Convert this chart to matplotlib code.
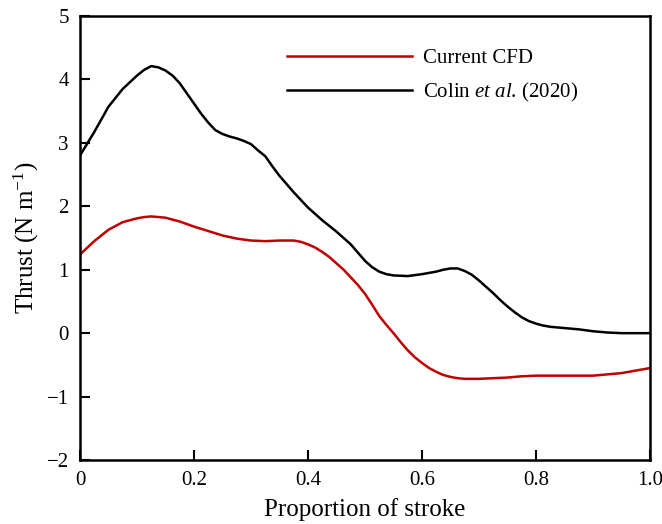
import matplotlib
matplotlib.use("Agg")
import matplotlib.pyplot as plt

# values: proportion of stroke (x) and thrust in N/m
cfd_stroke = [0.000, 0.025, 0.050, 0.075, 0.100, 0.1125, 0.125, 0.1375, 0.150, 0.175,
              0.200, 0.225, 0.250, 0.275, 0.300, 0.325, 0.350, 0.375, 0.3875, 0.400,
              0.4125, 0.425, 0.4375, 0.450, 0.4625, 0.475, 0.4875, 0.500, 0.5125, 0.525,
              0.5375, 0.550, 0.5625, 0.575, 0.5875, 0.600, 0.6125, 0.625, 0.6375, 0.650,
              0.6625, 0.675, 0.700, 0.725, 0.750, 0.775, 0.800, 0.850, 0.900, 0.925,
              0.950, 0.975, 1.000]
current_cfd = [1.24, 1.45, 1.63, 1.75, 1.81, 1.83, 1.84, 1.83, 1.82, 1.76,
               1.68, 1.61, 1.54, 1.49, 1.46, 1.45, 1.46, 1.46, 1.44, 1.40,
               1.35, 1.28, 1.20, 1.10, 1.00, 0.88, 0.76, 0.62, 0.45, 0.27,
               0.13, 0.00, -0.14, -0.27, -0.38, -0.47, -0.55, -0.61, -0.66, -0.69,
               -0.71, -0.72, -0.72, -0.71, -0.70, -0.68, -0.67, -0.67, -0.67, -0.65,
               -0.63, -0.59, -0.55]

colin_stroke = [0.000, 0.025, 0.050, 0.075, 0.100, 0.1125, 0.125, 0.1375, 0.150, 0.1625,
                0.175, 0.1875, 0.200, 0.2125, 0.225, 0.2375, 0.250, 0.2625, 0.275, 0.2875,
                0.300, 0.3125, 0.325, 0.3375, 0.350, 0.375, 0.400, 0.425, 0.450, 0.475,
                0.500, 0.5125, 0.525, 0.5375, 0.550, 0.575, 0.600, 0.625, 0.6375, 0.650,
                0.6625, 0.675, 0.6875, 0.700, 0.7125, 0.725, 0.7375, 0.750, 0.7625, 0.775,
                0.7875, 0.800, 0.8125, 0.825, 0.850, 0.875, 0.900, 0.925, 0.950, 1.000]
colin_2020 = [2.80, 3.17, 3.57, 3.85, 4.06, 4.15, 4.21, 4.19, 4.14, 4.06,
              3.94, 3.78, 3.62, 3.46, 3.32, 3.20, 3.14, 3.10, 3.07, 3.03,
              2.98, 2.88, 2.79, 2.63, 2.48, 2.22, 1.98, 1.78, 1.60, 1.40,
              1.14, 1.04, 0.97, 0.93, 0.91, 0.90, 0.93, 0.97, 1.00, 1.02,
              1.02, 0.98, 0.92, 0.83, 0.73, 0.63, 0.52, 0.42, 0.33, 0.25,
              0.19, 0.15, 0.12, 0.10, 0.08, 0.06, 0.03, 0.01, 0.00, 0.00]

xticks = [0, 0.2, 0.4, 0.6, 0.8, 1.0]
xtick_labels = ["0", "0.2", "0.4", "0.6", "0.8", "1.0"]
yticks = [-2, -1, 0, 1, 2, 3, 4, 5]

plt.rcParams["font.family"] = ["Liberation Serif", "DejaVu Serif"]
plt.rcParams["mathtext.fontset"] = "custom"
plt.rcParams["mathtext.rm"] = "Liberation Serif"
plt.rcParams["mathtext.it"] = "Liberation Serif:italic"

fig = plt.figure(figsize=(6.62, 5.24), dpi=100)
ax = fig.add_axes([0.1208, 0.1221, 0.8611, 0.8474])

ax.plot(cfd_stroke, current_cfd, color="#c00000", linewidth=1.8,
        solid_joinstyle="round", label="Current CFD")
ax.plot(colin_stroke, colin_2020, color="black", linewidth=1.8,
        solid_joinstyle="round", label=r"Colin $\mathit{et\ al}$. (2020)")

ax.set_xlim(0, 1.0)
ax.set_ylim(-2, 5)
ax.set_xticks(xticks)
ax.set_xticklabels(xtick_labels)
ax.set_yticks(yticks)

ax.tick_params(direction="in", length=7, width=1.5, labelsize=15,
               top=False, right=False, pad=8)
for side in ax.spines.values():
    side.set_linewidth(1.8)

ax.set_xlabel("Proportion of stroke", fontsize=18, labelpad=6)
ax.set_ylabel(r"Thrust (N m$^{-1}$)", fontsize=18, labelpad=4)

ax.legend(loc="upper left", bbox_to_anchor=(0.363, 0.926), frameon=False,
          fontsize=15, handlelength=6, handletextpad=0.55, labelspacing=0.6,
          borderpad=0, borderaxespad=0)

fig.savefig("out.png", dpi=100)
